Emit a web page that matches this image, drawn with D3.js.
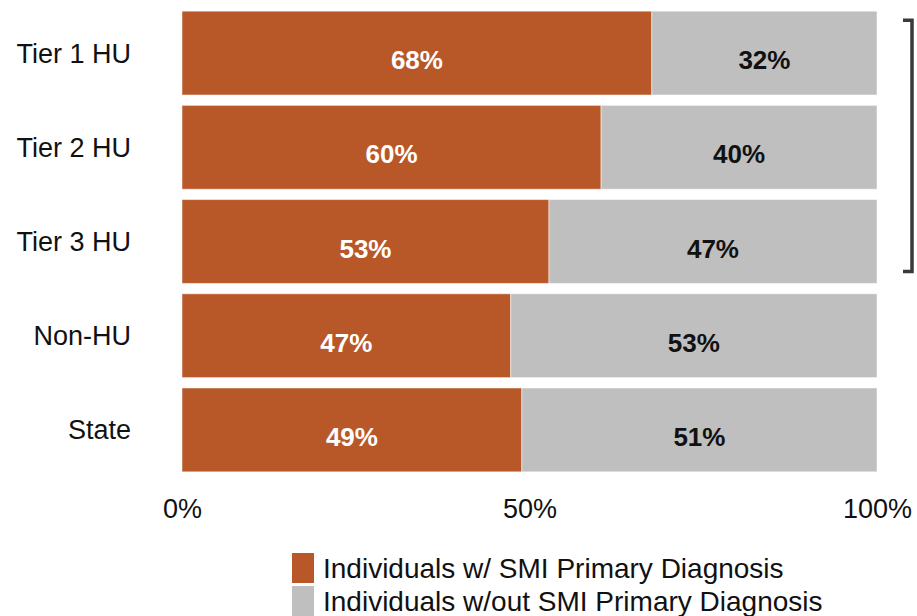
<!DOCTYPE html>
<html>
<head>
<meta charset="utf-8">
<script src="https://cdn.jsdelivr.net/npm/d3@7"></script>
<style>
  body { margin: 0; background: #fff; }
  text { font-family: "Liberation Sans", Arial, sans-serif; }
</style>
</head>
<body>
<div id="chart"></div>
<script>
// categories, top to bottom
var categories = ["Tier 1 HU", "Tier 2 HU", "Tier 3 HU", "Non-HU", "State"];
// share with SMI primary diagnosis (%)
var withSMI = [67.6, 60.3, 52.8, 47.3, 48.9];
// share without SMI primary diagnosis (%)
var withoutSMI = [32.4, 39.7, 47.2, 52.7, 51.1];
var tickValues = [0, 50, 100];
var seriesNames = ["Individuals w/ SMI Primary Diagnosis", "Individuals w/out SMI Primary Diagnosis"];
var colors = ["#B85828", "#BFBFBF"];
var bracketed = ["Tier 1 HU", "Tier 3 HU"];

var width = 917, height = 616;
var margin = {left: 182, right: 40, top: 6, bottom: 139};

var data = categories.map(function (c, i) {
  return {cat: c, a: withSMI[i], b: withoutSMI[i]};
});

var svg = d3.select("#chart").append("svg")
  .attr("width", width)
  .attr("height", height);

var x = d3.scaleLinear()
  .domain([0, 100])
  .range([margin.left, width - margin.right]);

var y = d3.scaleBand()
  .domain(categories)
  .range([margin.top, height - margin.bottom])
  .paddingInner(0.11)
  .paddingOuter(0.055);

var rows = svg.selectAll(".row")
  .data(data)
  .enter().append("g")
  .attr("class", "row")
  .attr("transform", function (d) { return "translate(0," + y(d.cat) + ")"; });

// SMI segment
rows.append("rect")
  .attr("x", x(0))
  .attr("width", function (d) { return x(d.a) - x(0); })
  .attr("height", y.bandwidth())
  .attr("fill", colors[0])
  .attr("stroke", "rgba(255,255,255,0.5)")
  .attr("stroke-width", 1);

// non-SMI segment
rows.append("rect")
  .attr("x", function (d) { return x(d.a); })
  .attr("width", function (d) { return x(d.a + d.b) - x(d.a); })
  .attr("height", y.bandwidth())
  .attr("fill", colors[1])
  .attr("stroke", "rgba(255,255,255,0.5)")
  .attr("stroke-width", 1);

rows.append("text")
  .attr("x", function (d) { return (x(0) + x(d.a)) / 2; })
  .attr("y", y.bandwidth() / 2 + 7)
  .attr("dy", "0.35em")
  .attr("text-anchor", "middle")
  .attr("fill", "#fff")
  .attr("font-weight", "bold")
  .attr("font-size", 26)
  .text(function (d) { return Math.round(d.a) + "%"; });

rows.append("text")
  .attr("x", function (d) { return (x(d.a) + x(d.a + d.b)) / 2; })
  .attr("y", y.bandwidth() / 2 + 7)
  .attr("dy", "0.35em")
  .attr("text-anchor", "middle")
  .attr("fill", "#111")
  .attr("font-weight", "bold")
  .attr("font-size", 26)
  .text(function (d) { return Math.round(d.b) + "%"; });

// category labels
svg.selectAll(".cat")
  .data(categories)
  .enter().append("text")
  .attr("class", "cat")
  .attr("x", 131)
  .attr("y", function (d) { return y(d) + y.bandwidth() / 2; })
  .attr("dy", "0.35em")
  .attr("text-anchor", "end")
  .attr("font-size", 27)
  .attr("fill", "#111")
  .text(function (d) { return d; });

// x axis
var xAxis = svg.append("g")
  .attr("transform", "translate(0," + (height - margin.bottom) + ")")
  .call(d3.axisBottom(x).tickValues(tickValues).tickSize(0).tickPadding(22)
    .tickFormat(function (d) { return d + "%"; }));
xAxis.select(".domain").remove();
xAxis.selectAll("text")
  .attr("font-size", 27)
  .attr("fill", "#111")
  .style("font-family", "'Liberation Sans', Arial, sans-serif");

// bracket around HU tiers
var bx = 912, by0 = y(bracketed[0]) + 9, by1 = y(bracketed[1]) + y.bandwidth() - 12;
svg.append("path")
  .attr("d", "M" + (bx - 9) + "," + by0 + "H" + bx + "V" + by1 + "H" + (bx - 9))
  .attr("fill", "none")
  .attr("stroke", "#3a3a3a")
  .attr("stroke-width", 3.5);

// legend
var legend = svg.append("g").attr("transform", "translate(292,553)");
var li = legend.selectAll("g")
  .data(seriesNames)
  .enter().append("g")
  .attr("transform", function (d, i) { return "translate(0," + i * 33 + ")"; });
li.append("rect")
  .attr("width", 22)
  .attr("height", 30)
  .attr("fill", function (d, i) { return colors[i]; });
li.append("text")
  .attr("x", 31)
  .attr("y", 15)
  .attr("dy", "0.35em")
  .attr("font-size", 28)
  .attr("fill", "#111")
  .text(function (d) { return d; });
</script>
</body>
</html>
